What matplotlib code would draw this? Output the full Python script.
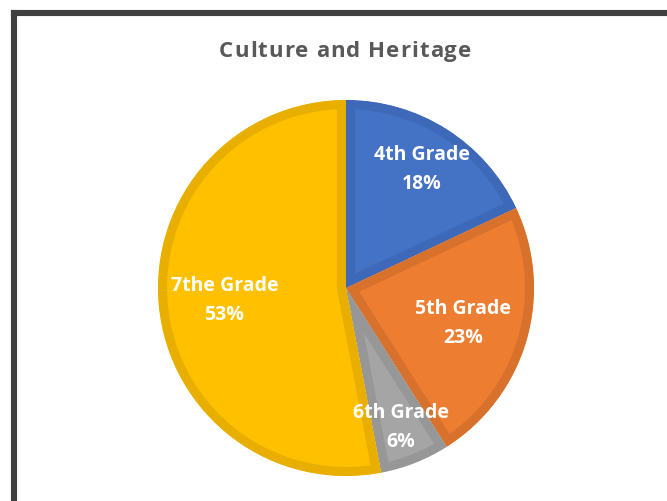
import matplotlib.pyplot as plt
import numpy as np
from matplotlib.lines import Line2D

# data
grades = ["4th Grade", "5th Grade", "6th Grade", "7the Grade"]
shares = [18, 23, 6, 53]
title = "Culture and Heritage"

# style
fills = ["#4472C4", "#ED7D31", "#A5A5A5", "#FFC000"]
edges = ["#3E69B8", "#D8712C", "#979797", "#E8AE00"]
label_dist = [0.75, 0.65, 0.79, 0.65]

W, H = 667, 502
fig = plt.figure(figsize=(W / 100, H / 100), dpi=100)
ax = fig.add_axes([0, 0, 1, 1])

cx, cy, R = 346, H - 289, 188
wedges, _ = ax.pie(shares, colors=fills, startangle=90, counterclock=False,
                   center=(cx, cy), radius=R, frame=True,
                   wedgeprops=dict(linewidth=13, edgecolor="none"))
ax.set_xlim(0, W)
ax.set_ylim(0, H)
ax.set_aspect("equal")
ax.axis("off")

total = sum(shares)
for w, ec, name, v, d in zip(wedges, edges, grades, shares, label_dist):
    w.set_edgecolor(ec)
    w.set_clip_on(True)
    w.set_clip_path(w)  # keep the stroke inside the slice
    mid = np.deg2rad((w.theta1 + w.theta2) / 2)
    ax.text(cx + d * R * np.cos(mid), cy + d * R * np.sin(mid),
            f"{name}\n{round(v / total * 100)}%", ha="center", va="center",
            color="white", fontsize=14, fontweight="bold",
            family="Open Sans", linespacing=1.6)

# title with a bit of letter spacing, laid out char by char
fig.canvas.draw()
rend = fig.canvas.get_renderer()
fs = 16
track = 1.0
pieces = []
for ch in title:
    t = fig.text(0, 0, ch, fontsize=fs, fontweight="bold", color="#595959",
                 family="Open Sans", va="baseline", ha="left")
    pieces.append((t, t.get_window_extent(rend).width if ch != " " else None))
tmp1 = fig.text(0, 0, "a a", fontsize=fs, fontweight="bold", family="Open Sans")
tmp2 = fig.text(0, 0, "aa", fontsize=fs, fontweight="bold", family="Open Sans")
sw = tmp1.get_window_extent(rend).width - tmp2.get_window_extent(rend).width
tmp1.remove()
tmp2.remove()
widths = [p[1] if p[1] is not None else sw for p in pieces]
total_w = sum(widths) + track * (len(widths) - 1)
x = 345 - total_w / 2
for (t, _), wd in zip(pieces, widths):
    t.set_position((x / W, 1 - 57 / H))
    x += wd + track

# outer frame (top and left edges visible)
fig.add_artist(Line2D([14 / W, 14 / W], [0, 1 - 14 / H], transform=fig.transFigure,
                      color="#404040", linewidth=4.4, solid_capstyle="projecting"))
fig.add_artist(Line2D([14 / W, 1], [1 - 14 / H, 1 - 14 / H], transform=fig.transFigure,
                      color="#404040", linewidth=4.4, solid_capstyle="projecting"))

fig.savefig("out.png", dpi=100, facecolor="white")
